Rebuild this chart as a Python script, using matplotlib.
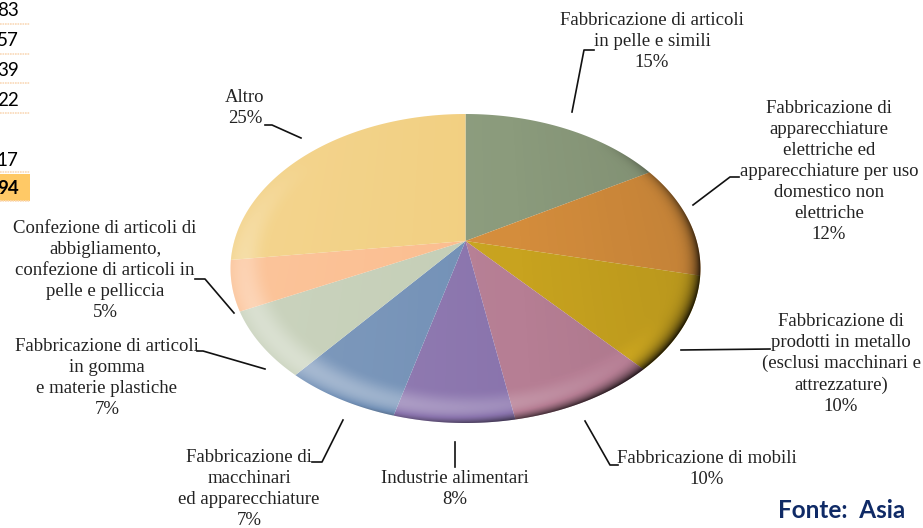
""" perspective pie of shares by sector """

import numpy as np
import matplotlib
matplotlib.use("Agg")
import matplotlib.pyplot as plt
from matplotlib.patches import Polygon

# names and printed percentages, clockwise from the top
sectors = [
    "Fabbricazione di articoli\nin pelle e simili",
    "Fabbricazione di\napparecchiature\nelettriche ed\napparecchiature per uso\ndomestico non\nelettriche",
    "Fabbricazione di\nprodotti in metallo\n(esclusi macchinari e\nattrezzature)",
    "Fabbricazione di mobili",
    "Industrie alimentari",
    "Fabbricazione di\nmacchinari\ned apparecchiature",
    "Fabbricazione di articoli\nin gomma\ne materie plastiche",
    "Confezione di articoli di\nabbigliamento,\nconfezione di articoli in\npelle e pelliccia",
    "Altro",
]
printed_pct = [15, 12, 10, 10, 8, 7, 7, 5, 25]
# slice sizes as they appear on the rim once the perspective is undone
slice_share = [16.7, 11.9, 9.8, 8.8, 7.0, 6.8, 6.9, 5.2, 27.0]
table_numbers = ["83", "57", "39", "22", "17", "94"]

colors = ["#8B9B7C", "#D48D3C", "#C8A31F", "#B67E94", "#8A74AD",
          "#7290B6", "#C4CEB6", "#FBBD8E", "#F2CF80"]

# perspective of the disc, in pixels
CX, CY = 465.5, 241.0
A, B, K = 231.2, 149.6, 0.178


def to_px(u, v):
    d = 1 + K * v
    return CX + A * u / d, CY - B * v / d


def from_px(x, y):
    xx = (x - CX) / A
    yy = (CY - y) / B
    v = yy / (1 - K * yy)
    u = xx * (1 + K * v)
    return u, v


fig = plt.figure(figsize=(9.23, 5.28), dpi=100)
ax = fig.add_axes([0, 0, 1, 1])

# slices
edges = np.cumsum([0] + slice_share) / sum(slice_share) * 2 * np.pi
for i, col in enumerate(colors):
    t = np.linspace(edges[i], edges[i + 1], 80)
    x, y = to_px(np.sin(t), np.cos(t))
    pts = np.column_stack([np.r_[CX, x], np.r_[CY, y]])
    ax.add_patch(Polygon(pts, closed=True, facecolor=col, edgecolor="none", zorder=2))

# bevel and side light on top of the slices
gx, gy = np.meshgrid(np.arange(923) + 0.5, np.arange(528) + 0.5)
u, v = from_px(gx, gy)
rho = np.hypot(u, v)
b = np.clip((rho - 0.84) / 0.16, 0, 1)
shade = -0.10 * u + 0.02
shade += 0.30 * np.clip(-0.55 * u - 0.8 * v + 0.05, 0, 1) * np.sin(np.pi * b * 0.8) ** 2
shade -= 0.85 * np.clip(0.75 * u - 0.65 * v, 0, 1) * b ** 5
shade = np.clip(shade, -1, 1)
overlay = np.zeros((528, 923, 4))
overlay[..., :3] = (shade > 0)[..., None]
overlay[..., 3] = np.abs(shade)
im = ax.imshow(overlay, extent=(0, 923, 528, 0), zorder=3, interpolation="bilinear", aspect="auto")
t = np.linspace(0, 2 * np.pi, 300)
rim = Polygon(np.column_stack(to_px(np.sin(t), np.cos(t))), closed=True,
              transform=ax.transData, facecolor="none", edgecolor="none")
ax.add_patch(rim)
im.set_clip_path(rim)

# labels and leader lines
label_xy = [(652, 12), (829, 100), (841, 313), (707, 450), (455, 470),
            (249, 449), (107, 338), (105, 220), (245, 89)]
leaders = [
    [(572, 112), (584, 50), (594, 50)],
    [(693, 205), (730, 177), (739, 177)],
    [(681, 350), (770, 349)],
    [(585, 421), (610, 465), (618, 465)],
    [(455, 442), (455, 467)],
    [(343, 420), (322, 462), (312, 462)],
    [(265, 369), (203, 351), (197, 351)],
    [(234, 313), (205, 279), (195, 279)],
    [(301, 138), (272, 125), (265, 125)],
]
for name, pct, (lx, ly), line in zip(sectors, printed_pct, label_xy, leaders):
    ax.text(lx, ly, f"{name}\n{pct}%", ha="center", va="top", fontsize=13.5,
            family="Liberation Serif", color="#222222", linespacing=1.31, zorder=5)
    xs, ys = zip(*line)
    ax.plot(xs, ys, color="#111111", lw=1.2, zorder=4)

# cut off table at the left edge
table_y = [10, 40, 70, 100, 160, 189]
rule_y = [24, 54, 83, 113, 172, 201]
ax.fill_between([0, 30], 174, 201, color="#FFC966", lw=0, zorder=1)
for yy in rule_y:
    ax.plot([0, 30], [yy, yy], color="#FAD9B8", lw=1.2, ls=(0, (1, 0.5)), zorder=2)
for i, (num, yy) in enumerate(zip(table_numbers, table_y)):
    ax.text(18.5, yy, num, ha="right", va="center", fontsize=13.5, family="Lato",
            fontweight="bold" if i == 5 else "normal", color="black", zorder=5)

ax.text(905, 511, "Fonte:  Asia", ha="right", va="center", fontsize=17.5, family="Lato",
        fontweight="bold", color="#0F2A66", zorder=5)

ax.set_xlim(0, 923)
ax.set_ylim(528, 0)
ax.axis("off")
fig.savefig("out.png", dpi=100)
